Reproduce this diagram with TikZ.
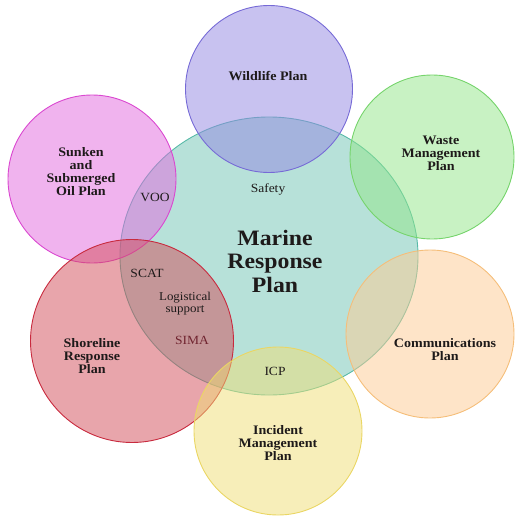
\documentclass[tikz,border=0pt]{standalone}
\usepackage{fontspec}
\setmainfont{Liberation Serif}[FakeStretch=1.08]
\usetikzlibrary{shapes.geometric}

\definecolor{tealF}{RGB}{112,196,180}
\definecolor{tealD}{RGB}{88,186,168}
\definecolor{violetF}{RGB}{146,134,226}
\definecolor{violetD}{RGB}{118,106,214}
\definecolor{greenF}{RGB}{146,230,136}
\definecolor{greenD}{RGB}{118,212,108}
\definecolor{pinkF}{RGB}{226,104,222}
\definecolor{pinkD}{RGB}{218,72,208}
\definecolor{redF}{RGB}{210,76,88}
\definecolor{redD}{RGB}{200,42,62}
\definecolor{orangeF}{RGB}{253,202,146}
\definecolor{orangeD}{RGB}{245,190,122}
\definecolor{yellowF}{RGB}{240,222,116}
\definecolor{yellowD}{RGB}{234,214,100}
\definecolor{inkC}{RGB}{30,26,26}
\definecolor{simaC}{RGB}{112,36,48}

\tikzset{
  plan/.style={circle, inner sep=0pt, minimum size=#1, fill opacity=0.5, line width=0.9pt},
  title/.style={font=\fontsize{13}{13}\selectfont\bfseries, text=inkC, align=center},
  tag/.style={font=\fontsize{12.5}{13}\selectfont, text=inkC, align=center},
}

\begin{document}
\begin{tikzpicture}[x=1pt, y=-1pt]
  \useasboundingbox (0,0) rectangle (514,516);

  % core plan
  \node[ellipse, inner sep=0pt, minimum width=298pt, minimum height=278pt,
        fill=tealF, fill opacity=0.5, draw=tealD, line width=0.9pt] (marine) at (269,256) {};

  % surrounding plans
  \node[plan=167pt, fill=violetF, draw=violetD] (wildlife) at (269,89) {};
  \node[plan=164pt, fill=greenF, draw=greenD] (waste) at (432,157) {};
  \node[plan=168pt, fill=pinkF, draw=pinkD] (sunken) at (92,179) {};
  \node[plan=203pt, fill=redF, draw=redD] (shore) at (132,341) {};
  \node[plan=168pt, fill=orangeF, draw=orangeD] (comms) at (430,334) {};
  \node[plan=168pt, fill=yellowF, draw=yellowD] (incident) at (278,431) {};

  % plan titles
  \node[title] (t-wild) at (268,76) {Wildlife Plan};
  \node[title] (t-waste) at (441,153) {Waste\\Management\\Plan};
  \node[title] (t-sunk) at (81,172) {Sunken\\and\\Submerged\\Oil Plan};
  \node[title] (t-shore) at (92,356) {Shoreline\\Response\\Plan};
  \node[title] (t-comms) at (445,350) {Communications\\Plan};
  \node[title] (t-inc) at (278,443) {Incident\\Management\\Plan};
  \node[font=\fontsize{22}{23.5}\selectfont\bfseries, text=inkC, align=center]
       (t-marine) at (275,261) {Marine\\Response\\Plan};

  % shared topics
  \node[tag] (safety) at (268,189) {Safety};
  \node[tag] (voo) at (155,197) {VOO};
  \node[tag] (scat) at (147,273) {SCAT};
  \node[tag, font=\fontsize{12}{12}\selectfont] (logi) at (185,304) {Logistical\\support};
  \node[tag, text=simaC] (sima) at (192,340) {SIMA};
  \node[tag] (icp) at (275,371) {ICP};
\end{tikzpicture}
\end{document}
